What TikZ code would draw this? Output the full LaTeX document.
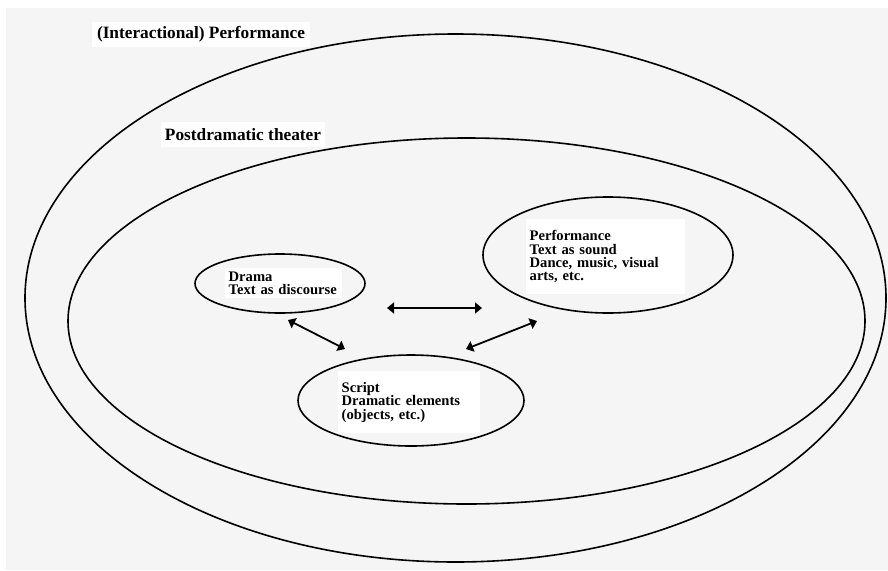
\documentclass[tikz,border=0pt]{standalone}
\usepackage{fontspec}
\setmainfont{Liberation Serif}
\usetikzlibrary{arrows.meta,shapes.geometric}

\definecolor{bggray}{HTML}{F5F5F5}

\begin{document}
\begin{tikzpicture}[
  x=1pt, y=-1pt,
  font=\bfseries\fontsize{14.6}{13.3}\selectfont,
  ring/.style={draw, ellipse, line width=1.6pt, inner sep=0pt},
  tag/.style={fill=white, anchor=north west, align=left, inner xsep=3.5pt, inner ysep=0pt},
  bigtag/.style={fill=white, inner sep=0pt, minimum height=25pt, font=\bfseries\fontsize{17.3}{20}\selectfont},
  link/.style={{Triangle[width=11pt,length=7pt]}-{Triangle[width=11pt,length=7pt]}, line width=1.8pt}
]
\useasboundingbox (0,0) rectangle (888,570);
\fill[white] (0,0) rectangle (888,570);
\fill[bggray] (6,8) rectangle (888,570);

\node[ring, minimum width=861pt, minimum height=528pt] (interact) at (455.5,298) {};
\node[ring, minimum width=797pt, minimum height=366pt] (postdram) at (466.5,321) {};
\node[ring, minimum width=170pt, minimum height=59pt] (drama) at (280,283.5) {};
\node[ring, minimum width=250pt, minimum height=116pt] (perf) at (608,255) {};
\node[ring, minimum width=226pt, minimum height=91pt] (script) at (411,400.5) {};

\node[bigtag, minimum width=218pt] (interacttag) at (201,34.5) {(Interactional) Performance};
\node[bigtag, minimum width=164pt] (postdramtag) at (243,134.5) {Postdramatic theater};

\node[tag, text width=110pt, minimum height=30pt] (dramatag) at (225,268) {Drama\\Text as discourse};
\node[tag, text width=152pt, minimum height=75pt] (perftag) at (526,219) {Performance\\Text as sound\\Dance, music, visual\\arts, etc.};
\node[tag, text width=135pt, minimum height=62pt] (scripttag) at (338,371) {Script\\Dramatic elements\\(objects, etc.)};

\coordinate (dramaright) at (387,308);
\coordinate (perfleft) at (482,308);
\coordinate (dramabelow) at (288,320);
\coordinate (scriptleft) at (345,349);
\coordinate (perfbelow) at (537,321);
\coordinate (scriptright) at (466,349);

\draw[link] (dramaright) -- (perfleft);
\draw[link] (dramabelow) -- (scriptleft);
\draw[link] (perfbelow) -- (scriptright);
\end{tikzpicture}
\end{document}
